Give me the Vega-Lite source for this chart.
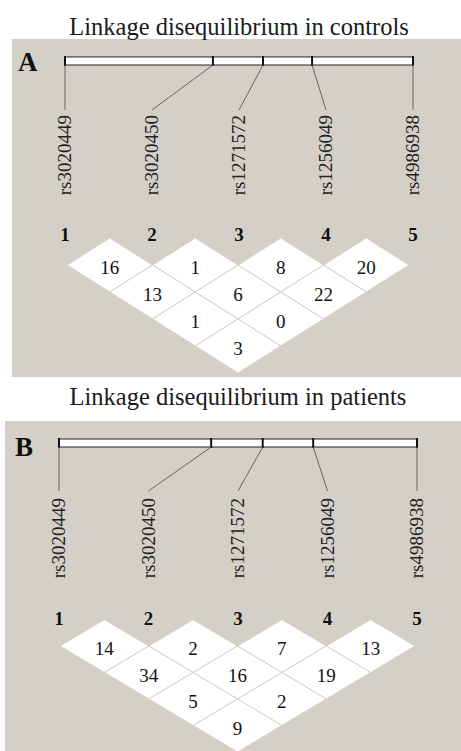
{
  "$schema": "https://vega.github.io/schema/vega-lite/v6.json",
  "padding": {"left": 5, "top": 14, "right": 0, "bottom": 0},
  "spacing": 7,
  "config": {"font": "Liberation Serif", "view": {"stroke": null}},
  "datasets": {
    "snps": [
      {"idx": 1, "name": "rs3020449", "relpos": 0},
      {"idx": 2, "name": "rs3020450", "relpos": 0.425},
      {"idx": 3, "name": "rs1271572", "relpos": 0.569},
      {"idx": 4, "name": "rs1256049", "relpos": 0.71},
      {"idx": 5, "name": "rs4986938", "relpos": 1}
    ],
    "ld": [
      {"panel": "A", "snp1": 1, "snp2": 2, "dprime": 16},
      {"panel": "A", "snp1": 2, "snp2": 3, "dprime": 1},
      {"panel": "A", "snp1": 3, "snp2": 4, "dprime": 8},
      {"panel": "A", "snp1": 4, "snp2": 5, "dprime": 20},
      {"panel": "A", "snp1": 1, "snp2": 3, "dprime": 13},
      {"panel": "A", "snp1": 2, "snp2": 4, "dprime": 6},
      {"panel": "A", "snp1": 3, "snp2": 5, "dprime": 22},
      {"panel": "A", "snp1": 1, "snp2": 4, "dprime": 1},
      {"panel": "A", "snp1": 2, "snp2": 5, "dprime": 0},
      {"panel": "A", "snp1": 1, "snp2": 5, "dprime": 3},
      {"panel": "B", "snp1": 1, "snp2": 2, "dprime": 14},
      {"panel": "B", "snp1": 2, "snp2": 3, "dprime": 2},
      {"panel": "B", "snp1": 3, "snp2": 4, "dprime": 7},
      {"panel": "B", "snp1": 4, "snp2": 5, "dprime": 13},
      {"panel": "B", "snp1": 1, "snp2": 3, "dprime": 34},
      {"panel": "B", "snp1": 2, "snp2": 4, "dprime": 16},
      {"panel": "B", "snp1": 3, "snp2": 5, "dprime": 19},
      {"panel": "B", "snp1": 1, "snp2": 4, "dprime": 5},
      {"panel": "B", "snp1": 2, "snp2": 5, "dprime": 2},
      {"panel": "B", "snp1": 1, "snp2": 5, "dprime": 9}
    ]
  },
  "vconcat": [
    {
      "width": 456,
      "height": 338,
      "title": {"text": "Linkage disequilibrium in controls", "fontSize": 24.5, "fontWeight": "normal", "font": "Liberation Serif", "color": "#1a1a1a", "baseline": "alphabetic", "offset": -20, "dx": 6},
      "view": {"fill": null, "stroke": null},
      "resolve": {"scale": {"x": "independent"}},
      "layer": [
        {
          "data": {"name": "snps"},
          "transform": [{"calculate": "1 + 4 * datum.relpos", "as": "bx"}],
          "layer": [
            {
              "transform": [{"aggregate": [{"op": "count", "as": "n"}]}],
              "mark": {"type": "rect", "fill": "#d4d0c8", "strokeWidth": 0},
              "encoding": {
                "x": {"datum": 0.3908, "type": "quantitative", "scale": {"domain": [0.3103, 5.5517]}, "axis": null},
                "x2": {"datum": 5.5517},
                "y": {"datum": -7.37, "type": "quantitative", "scale": {"domain": [-7.37, 5.148], "reverse": true}, "axis": null},
                "y2": {"datum": 5.148}
              }
            },
            {
              "transform": [{"aggregate": [{"op": "min", "field": "bx", "as": "b0"}, {"op": "max", "field": "bx", "as": "b1"}]}],
              "mark": {"type": "rect", "fill": "white", "stroke": "#222", "strokeWidth": 1},
              "encoding": {
                "x": {"field": "b0", "type": "quantitative", "scale": {"domain": [0.3103, 5.5517]}, "axis": null},
                "x2": {"field": "b1"},
                "y": {"datum": -6.704, "type": "quantitative", "scale": {"domain": [-7.37, 5.148], "reverse": true}, "axis": null},
                "y2": {"datum": -6.407}
              }
            },
            {
              "mark": {"type": "rule", "color": "#111", "strokeWidth": 2},
              "encoding": {
                "x": {"field": "bx", "type": "quantitative", "scale": {"domain": [0.3103, 5.5517]}, "axis": null},
                "y": {"datum": -6.74, "type": "quantitative", "scale": {"domain": [-7.37, 5.148], "reverse": true}, "axis": null},
                "y2": {"datum": -6.37}
              }
            },
            {
              "mark": {"type": "rule", "color": "#666", "strokeWidth": 1},
              "encoding": {
                "x": {"field": "bx", "type": "quantitative", "scale": {"domain": [0.3103, 5.5517]}, "axis": null},
                "x2": {"field": "idx"},
                "y": {"datum": -6.407, "type": "quantitative", "scale": {"domain": [-7.37, 5.148], "reverse": true}, "axis": null},
                "y2": {"datum": -4.741}
              }
            },
            {
              "mark": {"type": "text", "angle": 270, "align": "right", "baseline": "middle", "fontSize": 19, "color": "#222"},
              "encoding": {
                "x": {"field": "idx", "type": "quantitative", "scale": {"domain": [0.3103, 5.5517]}, "axis": null},
                "y": {"datum": -4.556, "type": "quantitative", "scale": {"domain": [-7.37, 5.148], "reverse": true}, "axis": null},
                "text": {"field": "name"}
              }
            },
            {
              "mark": {"type": "text", "align": "center", "baseline": "middle", "fontSize": 19, "fontWeight": "bold", "color": "#111"},
              "encoding": {
                "x": {"field": "idx", "type": "quantitative", "scale": {"domain": [0.3103, 5.5517]}, "axis": null},
                "y": {"datum": -0.111, "type": "quantitative", "scale": {"domain": [-7.37, 5.148], "reverse": true}, "axis": null},
                "text": {"field": "idx"}
              }
            },
            {
              "transform": [{"aggregate": [{"op": "count", "as": "n"}]}, {"calculate": "'A'", "as": "panel"}],
              "mark": {"type": "text", "align": "left", "baseline": "alphabetic", "fontSize": 27, "fontWeight": "bold", "color": "#111"},
              "encoding": {
                "x": {"datum": 0.46, "type": "quantitative", "scale": {"domain": [0.3103, 5.5517]}, "axis": null},
                "y": {"datum": -6.185, "type": "quantitative", "scale": {"domain": [-7.37, 5.148], "reverse": true}, "axis": null},
                "text": {"field": "panel"}
              }
            }
          ]
        },
        {
          "data": {"name": "ld"},
          "transform": [
            {"filter": "datum.panel === 'A'"},
            {"calculate": "(datum.snp1 + datum.snp2) / 2", "as": "mid"},
            {"calculate": "datum.snp2 - datum.snp1", "as": "dist"}
          ],
          "layer": [
            {
              "mark": {"type": "point", "shape": "M-1,0L0,-0.6316L1,0L0,0.6316Z", "filled": true, "fill": "white", "stroke": "#d4d0c8", "strokeWidth": 1, "fillOpacity": 1, "strokeOpacity": 1, "size": 7310},
              "encoding": {
                "x": {"field": "mid", "type": "quantitative", "scale": {"domain": [0.2749, 5.6082]}, "axis": null},
                "y": {"field": "dist", "type": "quantitative", "scale": {"domain": [-7.37, 5.148], "reverse": true}, "axis": null}
              }
            },
            {
              "mark": {"type": "text", "align": "center", "baseline": "middle", "fontSize": 19, "color": "#111", "dy": 3},
              "encoding": {
                "x": {"field": "mid", "type": "quantitative", "scale": {"domain": [0.2749, 5.6082]}, "axis": null},
                "y": {"field": "dist", "type": "quantitative", "scale": {"domain": [-7.37, 5.148], "reverse": true}, "axis": null},
                "text": {"field": "dprime"}
              }
            }
          ]
        }
      ]
    },
    {
      "width": 456,
      "height": 331,
      "title": {"text": "Linkage disequilibrium in patients", "fontSize": 24.5, "fontWeight": "normal", "font": "Liberation Serif", "color": "#1a1a1a", "baseline": "alphabetic", "offset": -8, "dx": 5},
      "view": {"fill": "#d4d0c8", "stroke": null},
      "resolve": {"scale": {"x": "independent"}},
      "layer": [
        {
          "data": {"name": "snps"},
          "transform": [{"calculate": "1 + 4 * datum.relpos", "as": "bx"}],
          "layer": [
            {
              "transform": [{"aggregate": [{"op": "min", "field": "bx", "as": "b0"}, {"op": "max", "field": "bx", "as": "b1"}]}],
              "mark": {"type": "rect", "fill": "white", "stroke": "#222", "strokeWidth": 1},
              "encoding": {
                "x": {"field": "b0", "type": "quantitative", "scale": {"domain": [0.3966, 5.4916]}, "axis": null},
                "x2": {"field": "b1"},
                "y": {"datum": -6.811, "type": "quantitative", "scale": {"domain": [-7.4906, 5.0], "reverse": true}, "axis": null},
                "y2": {"datum": -6.509}
              }
            },
            {
              "mark": {"type": "rule", "color": "#111", "strokeWidth": 2},
              "encoding": {
                "x": {"field": "bx", "type": "quantitative", "scale": {"domain": [0.3966, 5.4916]}, "axis": null},
                "y": {"datum": -6.849, "type": "quantitative", "scale": {"domain": [-7.4906, 5.0], "reverse": true}, "axis": null},
                "y2": {"datum": -6.472}
              }
            },
            {
              "mark": {"type": "rule", "color": "#666", "strokeWidth": 1},
              "encoding": {
                "x": {"field": "bx", "type": "quantitative", "scale": {"domain": [0.3966, 5.4916]}, "axis": null},
                "x2": {"field": "idx"},
                "y": {"datum": -6.509, "type": "quantitative", "scale": {"domain": [-7.4906, 5.0], "reverse": true}, "axis": null},
                "y2": {"datum": -4.849}
              }
            },
            {
              "mark": {"type": "text", "angle": 270, "align": "right", "baseline": "middle", "fontSize": 19, "color": "#222"},
              "encoding": {
                "x": {"field": "idx", "type": "quantitative", "scale": {"domain": [0.3966, 5.4916]}, "axis": null},
                "y": {"datum": -4.585, "type": "quantitative", "scale": {"domain": [-7.4906, 5.0], "reverse": true}, "axis": null},
                "text": {"field": "name"}
              }
            },
            {
              "mark": {"type": "text", "align": "center", "baseline": "middle", "fontSize": 19, "fontWeight": "bold", "color": "#111"},
              "encoding": {
                "x": {"field": "idx", "type": "quantitative", "scale": {"domain": [0.3966, 5.4916]}, "axis": null},
                "y": {"datum": -0.019, "type": "quantitative", "scale": {"domain": [-7.4906, 5.0], "reverse": true}, "axis": null},
                "text": {"field": "idx"}
              }
            },
            {
              "transform": [{"aggregate": [{"op": "count", "as": "n"}]}, {"calculate": "'B'", "as": "panel"}],
              "mark": {"type": "text", "align": "left", "baseline": "alphabetic", "fontSize": 27, "fontWeight": "bold", "color": "#111"},
              "encoding": {
                "x": {"datum": 0.508, "type": "quantitative", "scale": {"domain": [0.3966, 5.4916]}, "axis": null},
                "y": {"datum": -6.17, "type": "quantitative", "scale": {"domain": [-7.4906, 5.0], "reverse": true}, "axis": null},
                "text": {"field": "panel"}
              }
            }
          ]
        },
        {
          "data": {"name": "ld"},
          "transform": [
            {"filter": "datum.panel === 'B'"},
            {"calculate": "(datum.snp1 + datum.snp2) / 2", "as": "mid"},
            {"calculate": "datum.snp2 - datum.snp1", "as": "dist"}
          ],
          "layer": [
            {
              "mark": {"type": "point", "shape": "M-1,0L0,-0.5972L1,0L0,0.5972Z", "filled": true, "fill": "white", "stroke": "#d4d0c8", "strokeWidth": 1, "fillOpacity": 1, "strokeOpacity": 1, "size": 7876},
              "encoding": {
                "x": {"field": "mid", "type": "quantitative", "scale": {"domain": [0.3803, 5.5183]}, "axis": null},
                "y": {"field": "dist", "type": "quantitative", "scale": {"domain": [-7.4906, 5.0], "reverse": true}, "axis": null}
              }
            },
            {
              "mark": {"type": "text", "align": "center", "baseline": "middle", "fontSize": 19, "color": "#111", "dy": 3},
              "encoding": {
                "x": {"field": "mid", "type": "quantitative", "scale": {"domain": [0.3803, 5.5183]}, "axis": null},
                "y": {"field": "dist", "type": "quantitative", "scale": {"domain": [-7.4906, 5.0], "reverse": true}, "axis": null},
                "text": {"field": "dprime"}
              }
            }
          ]
        }
      ]
    }
  ]
}
